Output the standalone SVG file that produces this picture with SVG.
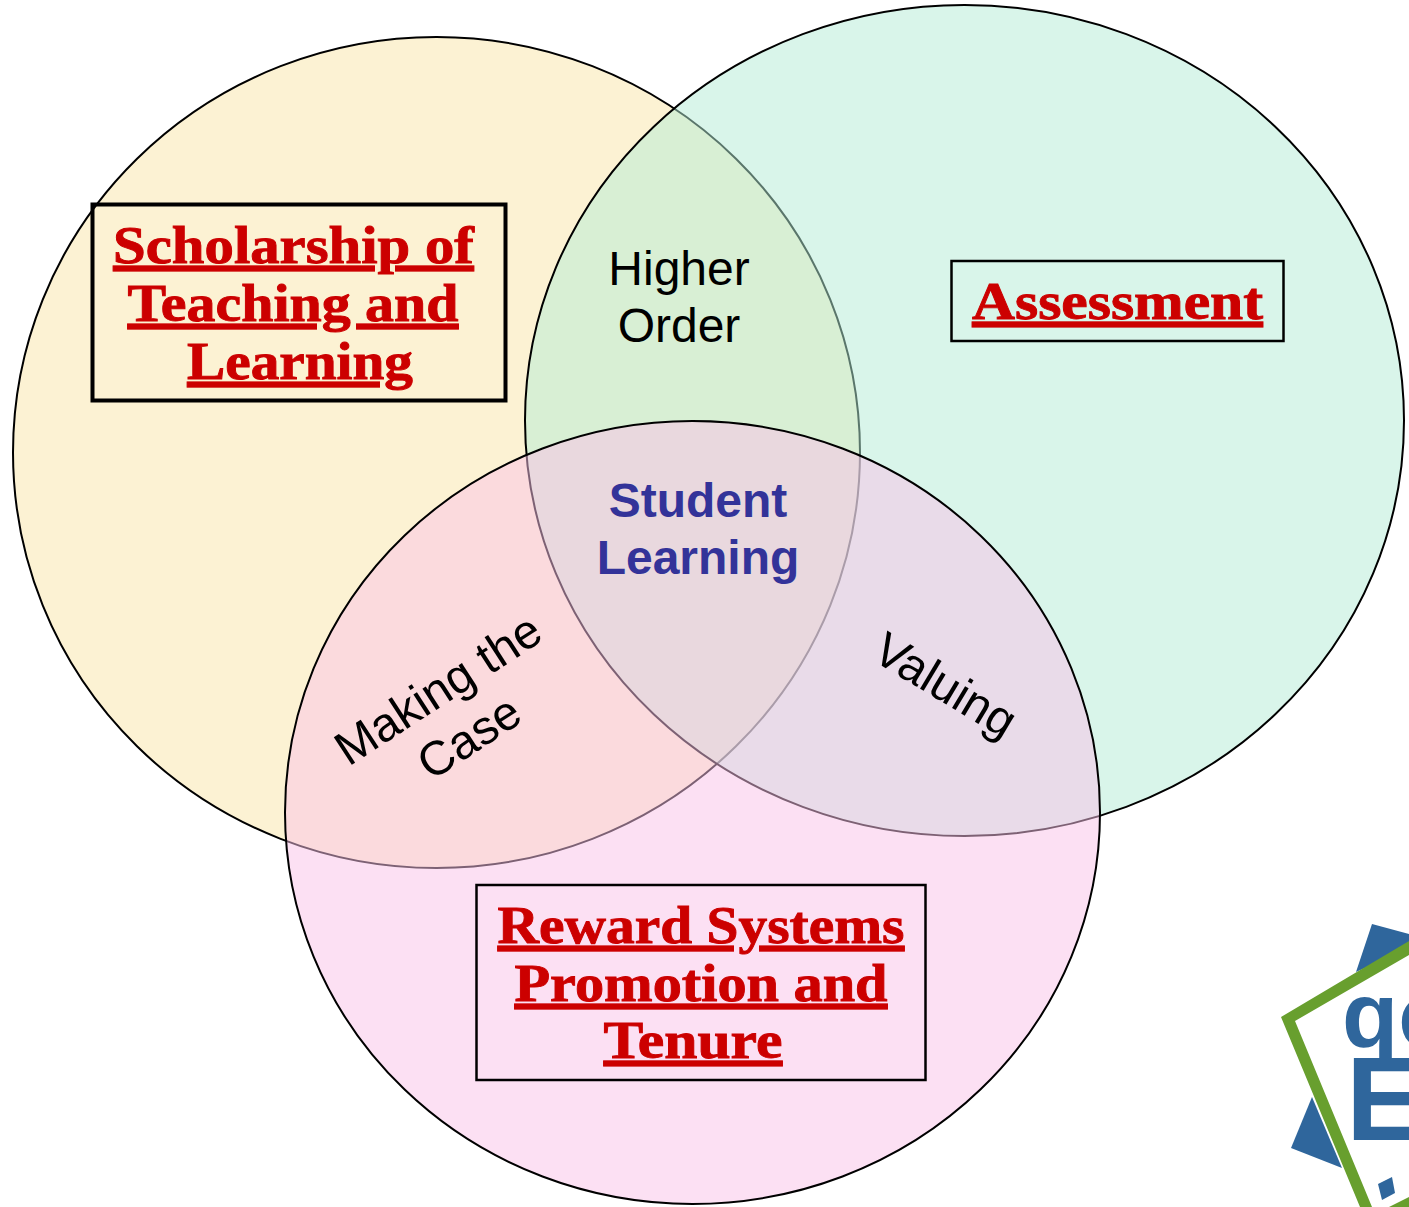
<svg xmlns="http://www.w3.org/2000/svg" width="1409" height="1207" viewBox="0 0 1409 1207">
<style>
.c{stroke:#000;stroke-width:2;fill-opacity:.5}
.b{fill:none;stroke:#000;stroke-width:2.5}
.h{font-family:"Liberation Serif",serif;font-weight:bold;font-size:53px;fill:#c00;stroke:#c00;stroke-width:.9;text-anchor:middle;text-decoration:underline;text-decoration-skip-ink:none}
.t{font-family:"Liberation Sans",Arial,sans-serif;font-size:48px;fill:#000;text-anchor:middle}
.s{font-family:"Liberation Sans",Arial,sans-serif;font-size:48px;font-weight:bold;fill:#339;text-anchor:middle}
.lb{fill:#2f669c}
.lg{fill:#689f2e}
.lt{font-family:"Liberation Sans",Arial,sans-serif;font-weight:bold;fill:#2f669c}
</style>
<rect width="1409" height="1207" fill="#fff"/>
<g id="circles">
<ellipse id="circle-sotl" class="c" cx="436.5" cy="452.5" rx="423.5" ry="415.5" fill="#fae6a7"/>
<ellipse id="circle-assessment" class="c" cx="964.5" cy="420.5" rx="439.5" ry="415.5" fill="#b3ebd5"/>
<ellipse id="circle-reward" class="c" cx="692.5" cy="812.5" rx="407.5" ry="391.5" fill="#f9c2e7"/>
</g>
<g id="node-sotl">
<rect x="92.500" y="204.500" width="413" height="196" fill="none" stroke="#000" stroke-width="4"/>
<text class="h" transform="translate(293.500,263) scale(1.109,1)">Scholarship of</text>
<text class="h" transform="translate(293,321) scale(1.093,1)">Teaching and</text>
<text class="h" transform="translate(300,379) scale(1.08,1)">Learning</text>
</g>
<g id="node-assessment">
<rect class="b" x="951.500" y="261" width="332" height="80"/>
<text class="h" transform="translate(1117.500,319) scale(1.123,1)">Assessment</text>
</g>
<g id="node-reward">
<rect class="b" x="476.500" y="885" width="449" height="195"/>
<text class="h" transform="translate(701,943) scale(1.084,1)">Reward Systems</text>
<text class="h" transform="translate(701,1001) scale(1.1,1)">Promotion and</text>
<text class="h" transform="translate(693,1058) scale(1.125,1)">Tenure</text>
</g>
<g id="node-higher-order">
<text class="t" x="679" y="285">Higher</text>
<text class="t" x="679" y="342">Order</text>
</g>
<g id="node-student-learning">
<text class="s" x="698" y="517">Student</text>
<text class="s" x="698" y="574">Learning</text>
</g>
<g id="node-making-the-case">
<text class="t" transform="translate(447,703) rotate(-33)">Making the</text>
<text class="t" transform="translate(478,751) rotate(-33)">Case</text>
</g>
<g id="node-valuing">
<text class="t" transform="translate(937,699) rotate(31)">Valuing</text>
</g>
<g id="logo">
<polygon class="lb" points="1372,924 1409,934 1409,948 1356,972"/>
<polygon class="lb" points="1312,1097 1291,1148 1342,1168"/>
<polygon class="lb" points="1378,1184 1392,1177 1395,1193 1382,1200"/>
<text class="lt" x="1342" y="1047" font-size="92">qo</text>
<text class="lt" x="1346" y="1140" font-size="118">E</text>
<polygon class="lg" points="1409,941 1281,1017 1360,1207 1372,1207 1295,1021 1409,955"/>
<polygon class="lg" points="1389,1207 1409,1197 1409,1207"/>
</g>
</svg>
